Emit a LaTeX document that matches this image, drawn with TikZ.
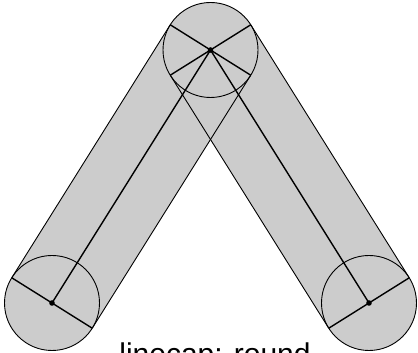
\documentclass[tikz,border=0pt]{standalone}
\usepackage{fontspec}
\setmainfont{Liberation Sans}
\usetikzlibrary{calc}
\begin{document}
\begin{tikzpicture}[x=1pt,y=1pt,
  band/.style={line width=95pt, color=black!20, line cap=round},
  edge/.style={draw=black, line width=0.9pt},
  thick line/.style={draw=black, line width=1.4pt},
  dot/.style={fill=black}]
\useasboundingbox (0,0) rectangle (418,353);
\coordinate (A) at (52,50);
\coordinate (B) at (210.5,303);
\coordinate (C) at (369,50);
% gray bands
\draw[band] (A) -- (B);
\draw[band] (B) -- (C);
% band outlines
\foreach \p/\q in {A/B, B/C}{
  \draw[edge] ($(\p)!47.5pt!90:(\q)$) -- ($(\q)!47.5pt!-90:(\p)$);
  \draw[edge] ($(\p)!47.5pt!-90:(\q)$) -- ($(\q)!47.5pt!90:(\p)$);
  \draw[thick line] ($(\p)!47.5pt!90:(\q)$) -- ($(\p)!47.5pt!-90:(\q)$);
  \draw[thick line] ($(\q)!47.5pt!90:(\p)$) -- ($(\q)!47.5pt!-90:(\p)$);
}
\draw[edge] (A) circle (47.5);
\draw[edge] (B) circle (47.5);
\draw[edge] (C) circle (47.5);
% center line
\draw[thick line] (A) -- (B) -- (C);
\fill[dot] (A) circle (2.8);
\fill[dot] (B) circle (2.8);
\fill[dot] (C) circle (2.8);
\node[anchor=base, font=\fontsize{30}{36}\selectfont, inner sep=0] (label) at (215,-12) {linecap: round};
\end{tikzpicture}
\end{document}
